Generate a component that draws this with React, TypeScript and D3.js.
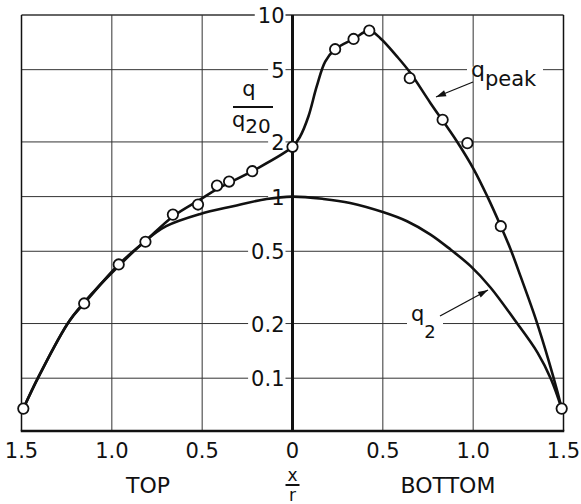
import React, { useEffect, useRef } from 'react';
import * as d3 from 'd3';

const W = 581;
const H = 504;

// Axis ticks
const xTicks = [-1.5, -1, -0.5, 0, 0.5, 1, 1.5];
const xTickLabels = ['1.5', '1.0', '0.5', '0', '0.5', '1.0', '1.5'];
const yTicks = [10, 5, 2, 1, 0.5, 0.2, 0.1];
const yTickLabels = ['10', '5', '2', '1', '0.5', '0.2', '0.1'];

// Measured peak heat flux ratio (circles)
const qPeakPoints: [number, number][] = [
  [-1.49, 0.068], [-1.153, 0.258], [-0.962, 0.423], [-0.814, 0.564],
  [-0.662, 0.796], [-0.523, 0.904], [-0.418, 1.15], [-0.351, 1.21],
  [-0.223, 1.38], [0, 1.88], [0.236, 6.48], [0.338, 7.38], [0.425, 8.2],
  [0.649, 4.49], [0.831, 2.65], [0.968, 1.97], [1.153, 0.687], [1.49, 0.068],
];

// Fitted q_peak curve
const qPeakCurve: [number, number][] = [
  [-1.49, 0.068], [-1.403, 0.103], [-1.236, 0.206], [-1.153, 0.258],
  [-0.962, 0.423], [-0.814, 0.57], [-0.66, 0.78], [-0.514, 0.96],
  [-0.418, 1.1], [-0.223, 1.38], [0, 1.88], [0.042, 2.14], [0.088, 2.76],
  [0.134, 4.04], [0.181, 5.54], [0.236, 6.48], [0.338, 7.38], [0.425, 8.2],
  [0.486, 7.45], [0.579, 5.9], [0.649, 4.85], [0.764, 3.27], [0.912, 2.0],
  [1.004, 1.41], [1.079, 1.0], [1.153, 0.687], [1.208, 0.51], [1.264, 0.36],
  [1.347, 0.211], [1.421, 0.122], [1.468, 0.083], [1.49, 0.068],
];

// q2 curve
const q2Curve: [number, number][] = [
  [-1.49, 0.068], [-1.403, 0.103], [-1.236, 0.206], [-1.1, 0.3],
  [-0.962, 0.415], [-0.81, 0.575], [-0.699, 0.687], [-0.514, 0.8],
  [-0.329, 0.885], [-0.143, 0.97], [0, 1.0], [0.171, 0.971], [0.319, 0.923],
  [0.504, 0.82], [0.634, 0.732], [0.764, 0.618], [0.875, 0.511],
  [0.986, 0.414], [1.097, 0.315], [1.227, 0.211], [1.357, 0.138],
  [1.431, 0.0988], [1.49, 0.068],
];

const FONT = 'DejaVu Sans, sans-serif';

export default function App() {
  const ref = useRef<SVGSVGElement | null>(null);

  useEffect(() => {
    const svg = d3.select(ref.current);
    svg.selectAll('*').remove();

    const x = d3.scaleLinear().domain([-1.5, 1.5]).range([21.5, 563.5]);
    const y = d3.scaleLog().domain([0.0512, 10]).range([431, 15]);
    const [yBot, yTop] = [y(0.0512), y(10)];
    const [xL, xR] = [x(-1.5), x(1.5)];

    const ink = '#111';

    // grid
    const grid = svg.append('g').attr('stroke', '#333').attr('stroke-width', 1);
    xTicks.filter((t) => Math.abs(t) < 1.5 && t !== 0).forEach((t) => {
      grid.append('line').attr('x1', x(t)).attr('x2', x(t)).attr('y1', yTop).attr('y2', yBot);
    });
    yTicks.forEach((t) => {
      grid.append('line').attr('x1', xL).attr('x2', xR).attr('y1', y(t)).attr('y2', y(t))
        .attr('stroke-width', t === 10 ? 1.5 : 1);
    });

    // frame
    svg.append('line').attr('x1', xL).attr('x2', xL).attr('y1', yTop).attr('y2', yBot)
      .attr('stroke', ink).attr('stroke-width', 1.5);
    svg.append('line').attr('x1', xR).attr('x2', xR).attr('y1', yTop).attr('y2', yBot)
      .attr('stroke', ink).attr('stroke-width', 1.5);
    svg.append('line').attr('x1', xL - 0.75).attr('x2', xR + 0.75).attr('y1', yBot).attr('y2', yBot)
      .attr('stroke', ink).attr('stroke-width', 2.5);

    // y tick labels with white knockouts
    const yLab = svg.append('g');
    yTicks.forEach((t, i) => {
      const g = yLab.append('g');
      const bg = g.append('rect').attr('fill', 'white');
      const txt = g.append('text')
        .attr('x', x(0) - 8)
        .attr('y', y(t) + 8)
        .attr('text-anchor', 'end')
        .attr('font-family', FONT)
        .attr('font-size', 21)
        .attr('fill', ink)
        .text(yTickLabels[i]);
      const bb = (txt.node() as SVGTextElement).getBBox();
      bg.attr('x', bb.x - 3).attr('y', y(t) - 4).attr('width', bb.width + 4).attr('height', 8);
    });

    // knockouts behind the series labels
    const knock = (x1: number, x2: number, yy: number) => {
      svg.append('rect').attr('x', x1).attr('y', yy - 3).attr('width', x2 - x1).attr('height', 6)
        .attr('fill', 'white');
    };
    knock(467, 543, y(5));
    knock(407, 443, y(0.2));

    // zero axis
    svg.append('line').attr('x1', x(0)).attr('x2', x(0)).attr('y1', yTop).attr('y2', yBot + 1)
      .attr('stroke', ink).attr('stroke-width', 3);

    // curves
    const line = d3.line<[number, number]>()
      .x((d) => x(d[0]))
      .y((d) => y(d[1]))
      .curve(d3.curveCatmullRom.alpha(0.5));
    svg.append('path').attr('d', line(q2Curve)).attr('fill', 'none')
      .attr('stroke', ink).attr('stroke-width', 2.6);
    svg.append('path').attr('d', line(qPeakCurve)).attr('fill', 'none')
      .attr('stroke', ink).attr('stroke-width', 2.6);

    // data points
    svg.append('g').selectAll('circle').data(qPeakPoints).join('circle')
      .attr('cx', (d) => x(d[0]))
      .attr('cy', (d) => y(d[1]))
      .attr('r', 5.2)
      .attr('fill', 'white')
      .attr('stroke', ink)
      .attr('stroke-width', 1.8);

    // x tick labels
    xTicks.forEach((t, i) => {
      svg.append('text')
        .attr('x', x(t))
        .attr('y', 458)
        .attr('text-anchor', 'middle')
        .attr('font-family', FONT)
        .attr('font-size', 21)
        .attr('fill', ink)
        .text(xTickLabels[i]);
    });

    // side labels
    svg.append('text').attr('x', 148).attr('y', 493).attr('text-anchor', 'middle')
      .attr('font-family', FONT).attr('font-size', 22).attr('fill', ink).text('TOP');
    svg.append('text').attr('x', 448).attr('y', 493).attr('text-anchor', 'middle')
      .attr('font-family', FONT).attr('font-size', 22).attr('fill', ink).text('BOTTOM');

    // x / r
    svg.append('text').attr('x', x(0)).attr('y', 481).attr('text-anchor', 'middle')
      .attr('font-family', FONT).attr('font-size', 17).attr('fill', ink).text('x');
    svg.append('line').attr('x1', x(0) - 7).attr('x2', x(0) + 7).attr('y1', 485).attr('y2', 485)
      .attr('stroke', ink).attr('stroke-width', 2);
    svg.append('text').attr('x', x(0)).attr('y', 501).attr('text-anchor', 'middle')
      .attr('font-family', FONT).attr('font-size', 17).attr('fill', ink).text('r');

    // q / q20
    svg.append('text').attr('x', 249).attr('y', 96).attr('text-anchor', 'middle')
      .attr('font-family', FONT).attr('font-size', 21).attr('fill', ink).text('q');
    svg.append('line').attr('x1', 233).attr('x2', 273).attr('y1', 107).attr('y2', 107)
      .attr('stroke', ink).attr('stroke-width', 2);
    const den = svg.append('text').attr('x', 232).attr('y', 127)
      .attr('font-family', FONT).attr('font-size', 21).attr('fill', ink);
    den.append('tspan').text('q');
    den.append('tspan').attr('dy', 6).attr('font-size', 20).text('20');

    // q_peak label
    const pk = svg.append('text').attr('x', 471).attr('y', 77)
      .attr('font-family', FONT).attr('font-size', 22).attr('fill', ink);
    pk.append('tspan').text('q');
    pk.append('tspan').attr('dy', 9).attr('font-size', 21).text('peak');

    // q2 label
    const q2 = svg.append('text').attr('x', 411).attr('y', 321)
      .attr('font-family', FONT).attr('font-size', 21).attr('fill', ink);
    q2.append('tspan').text('q');
    q2.append('tspan').attr('dy', 17).attr('font-size', 18).text('2');

    // arrows
    const arrow = (x1: number, y1: number, x2: number, y2: number) => {
      svg.append('line').attr('x1', x1).attr('y1', y1).attr('x2', x2).attr('y2', y2)
        .attr('stroke', ink).attr('stroke-width', 1.3);
      const ang = Math.atan2(y2 - y1, x2 - x1);
      const L = 10, Wd = 3.2;
      const bx = x2 - L * Math.cos(ang), by = y2 - L * Math.sin(ang);
      const px = -Math.sin(ang) * Wd, py = Math.cos(ang) * Wd;
      svg.append('path')
        .attr('d', `M${x2},${y2}L${bx + px},${by + py}L${bx - px},${by - py}Z`)
        .attr('fill', ink);
    };
    arrow(473, 82, 436, 97);
    arrow(440, 316, 488, 290);
  }, []);

  return (
    <svg
      ref={ref}
      width={W}
      height={H}
      style={{ position: 'absolute', left: 0, top: 0, background: 'white' }}
    />
  );
}
